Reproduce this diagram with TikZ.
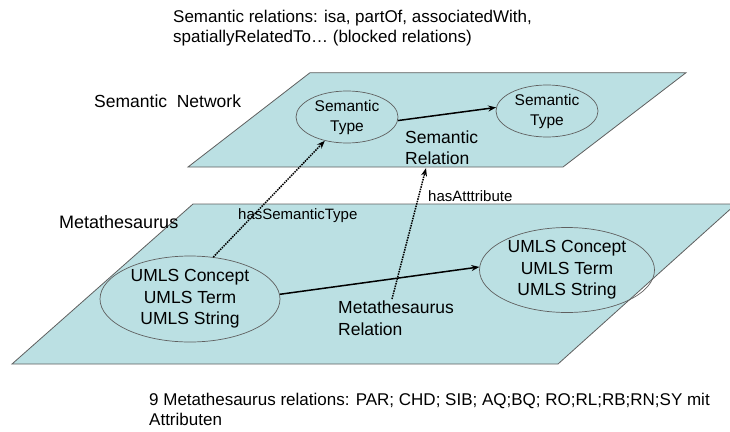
\documentclass[tikz,border=0pt]{standalone}
\usepackage{fontspec}
\setmainfont{Liberation Sans}
\usetikzlibrary{arrows.meta,shapes.geometric}
\definecolor{plane}{RGB}{187,224,227}
\definecolor{edge}{RGB}{95,95,95}
\begin{document}
\begin{tikzpicture}[x=1pt,y=-1pt,
  planestyle/.style={fill=plane,draw=edge,line width=0.8pt},
  ell/.style={ellipse,draw=edge,line width=0.7pt,inner sep=0pt,align=center},
  big/.style={font=\fontsize{17.5}{21.7}\selectfont},
  small/.style={font=\fontsize{15.5}{20}\selectfont},
  lblfont/.style={font=\fontsize{15}{18}\selectfont},
  note/.style={font=\fontsize{17}{20.5}\selectfont},
  lbl/.style={inner sep=0pt},
  solidarrow/.style={line width=1.5pt,-{Stealth[length=8pt,width=6pt]}},
  dotarrow/.style={line width=1.5pt,densely dotted,-{Stealth[length=8pt,width=6pt]}}
]
\path[use as bounding box,clip] (0,0) rectangle (730,431);
\path[planestyle] (12,364) -- (193,204) -- (736,204) -- (558,364) -- cycle;
\path[planestyle] (188,167) -- (310,72.7) -- (686,72.7) -- (563,167) -- cycle;

\node[ell,small,minimum width=102pt,minimum height=52pt] (stL) at (347,117) {Semantic\\Type};
\node[ell,small,minimum width=102pt,minimum height=52pt] (stR) at (547,111) {Semantic\\Type};
\node[ell,big,minimum width=180pt,minimum height=86pt] (umL) at (190,299) {UMLS Concept\\UMLS Term\\UMLS String};
\node[ell,big,minimum width=175pt,minimum height=85pt] (umR) at (567,270) {UMLS Concept\\UMLS Term\\UMLS String};

\node[lbl,note,anchor=north west,align=left] (title) at (173,9.6) {Semantic relations: isa, partOf, associatedWith,\\spatiallyRelatedTo… (blocked relations)};
\node[lbl,big,anchor=base west] (sn) at (94,107) {Semantic~~Network};
\node[lbl,big,anchor=north west,align=left] (sr) at (405,130.2) {Semantic\\Relation};
\node[lbl,font=\fontsize{18}{21}\selectfont,anchor=base west] (meta) at (59,228) {Metathesaurus};
\node[lbl,lblfont,anchor=base west] (hst) at (238,219) {hasSemanticType};
\node[lbl,lblfont,anchor=base west] (hat) at (428,201) {hasAtttribute};
\node[lbl,big,anchor=north west,align=left] (mr) at (338,301) {Metathesaurus\\Relation};
\node[lbl,note,anchor=north west,align=left] (bottom) at (149,392.6) {9 Metathesaurus relations: PAR; CHD; SIB; AQ;BQ; RO;RL;RB;RN;SY mit\\Attributen};

\draw[solidarrow] (stL.-4) -- (stR.176);
\draw[solidarrow] (umL.3) -- (umR.178);
\draw[dotarrow] (umL.61) -- (stL.227);
\draw[dotarrow] ([xshift=54pt,yshift=2pt]mr.north west) -- ([xshift=21pt,yshift=-3pt]sr.south west);
\end{tikzpicture}
\end{document}
